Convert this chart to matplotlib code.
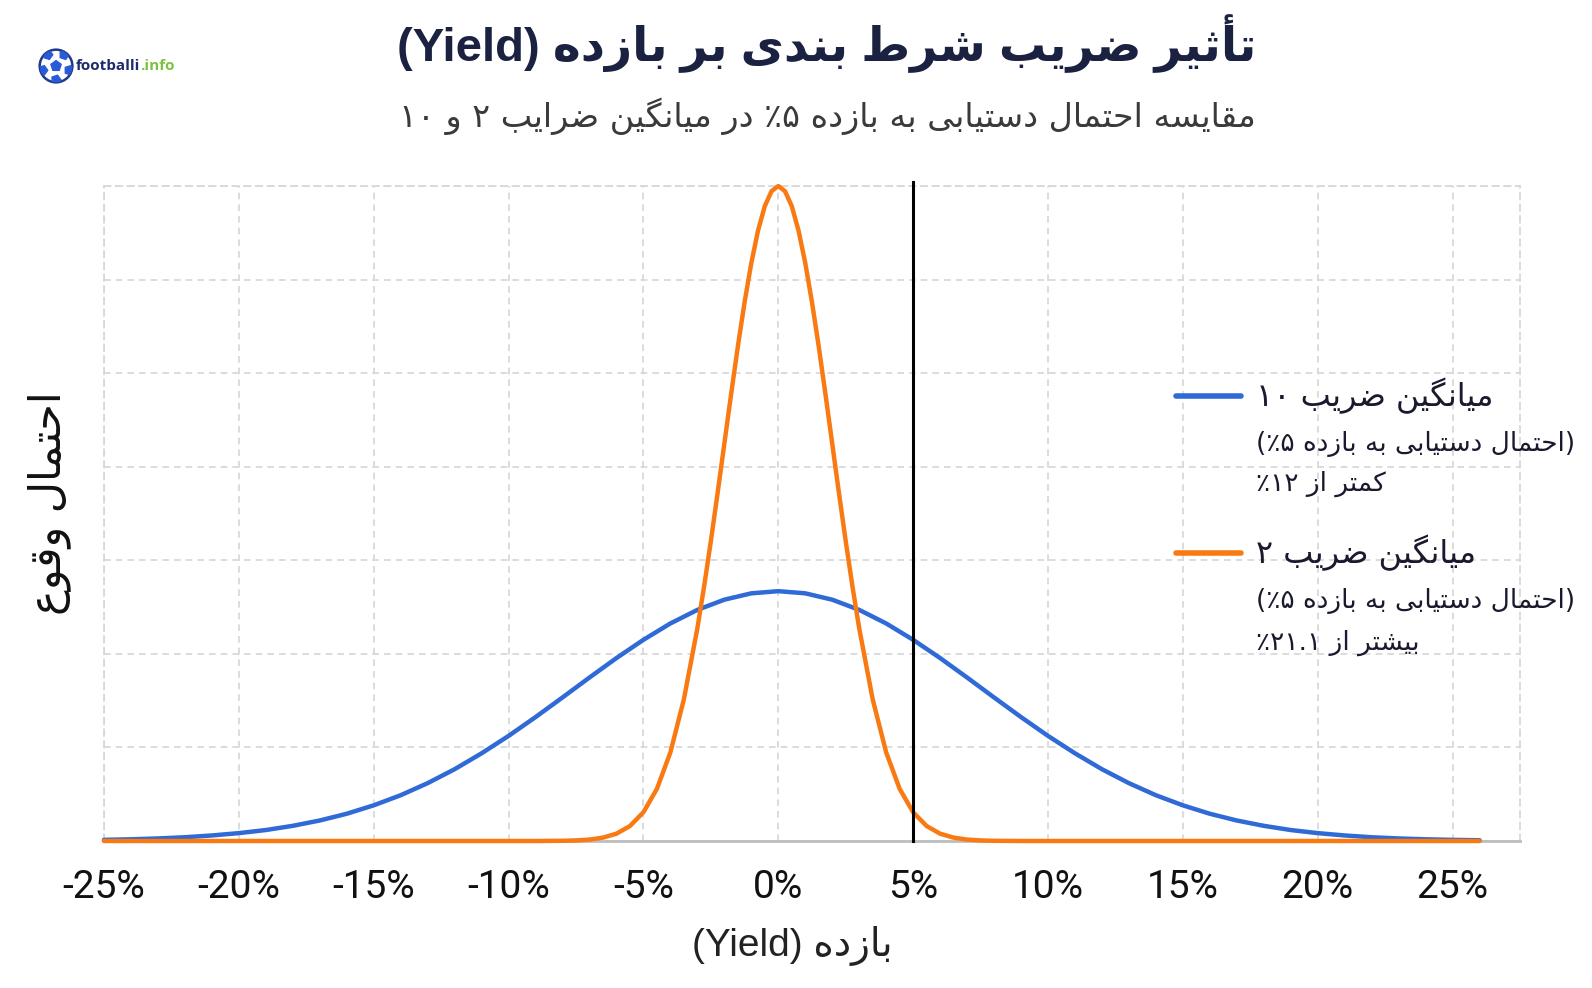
import math
import matplotlib.pyplot as plt
from matplotlib.lines import Line2D
from matplotlib.patches import Circle, RegularPolygon

# --- data (x in %, y in grid units, 7 = top) ---
x_ticks = [-25, -20, -15, -10, -5, 0, 5, 10, 15, 20, 25]
tick_labels = ['-25%', '-20%', '-15%', '-10%', '-5%', '0%', '5%', '10%', '15%', '20%', '25%']

blue_x = [-25, -24, -23, -22, -21, -20, -19, -18, -17, -16, -15, -14, -13, -12, -11, -10,
          -9, -8, -7, -6, -5, -4, -3, -2, -1, 0, 1, 2, 3, 4, 5, 6, 7, 8, 9, 10, 11, 12,
          13, 14, 15, 16, 17, 18, 19, 20, 21, 22, 23, 24, 25, 26]
blue_y = [0.012, 0.018, 0.027, 0.040, 0.059, 0.084, 0.117, 0.162, 0.219, 0.291, 0.381,
          0.489, 0.618, 0.767, 0.937, 1.123, 1.324, 1.534, 1.747, 1.955, 2.150, 2.325,
          2.470, 2.579, 2.647, 2.670, 2.647, 2.579, 2.470, 2.325, 2.150, 1.955, 1.747,
          1.534, 1.324, 1.123, 0.937, 0.767, 0.618, 0.489, 0.381, 0.291, 0.219, 0.162,
          0.117, 0.084, 0.059, 0.040, 0.027, 0.018, 0.012, 0.008]

orange_x = [-25, -20, -15, -10, -9, -8, -7.5, -7, -6.5, -6, -5.5, -5, -4.5, -4, -3.5, -3,
            -2.75, -2.5, -2.25, -2, -1.75, -1.5, -1.25, -1, -0.75, -0.5, -0.25, 0,
            0.25, 0.5, 0.75, 1, 1.25, 1.5, 1.75, 2, 2.25, 2.5, 2.75, 3, 3.5, 4, 4.5,
            5, 5.5, 6, 6.5, 7, 7.5, 8, 9, 10, 15, 20, 25, 26]
orange_y = [0, 0, 0, 0, 0, 0.002, 0.006, 0.015, 0.036, 0.078, 0.160, 0.307, 0.557, 0.947,
            1.514, 2.273, 2.720, 3.205, 3.718, 4.246, 4.773, 5.284, 5.758, 6.177, 6.525,
            6.785, 6.945, 7.0, 6.945, 6.785, 6.525, 6.177, 5.758, 5.284, 4.773, 4.246,
            3.718, 3.205, 2.720, 2.273, 1.514, 0.947, 0.557, 0.307, 0.160, 0.078, 0.036,
            0.015, 0.006, 0.002, 0, 0, 0, 0, 0, 0]

target_yield = 5

title = 'تأثیر ضریب شرط بندی بر بازده (Yield)'
subtitle = 'مقایسه احتمال دستیابی به بازده ۵٪ در میانگین ضرایب ۲ و ۱۰'
xlabel = 'بازده (Yield)'
ylabel = 'احتمال وقوع'
legend_blue = ['میانگین ضریب ۱۰', '(احتمال دستیابی به بازده ۵٪)', 'کمتر از ۱۲٪']
legend_orange = ['میانگین ضریب ۲', '(احتمال دستیابی به بازده ۵٪)', 'بیشتر از ۲۱.۱٪']

BLUE = '#2f6ad6'
ORANGE = '#f97a12'

# --- tiny Persian shaping + right-to-left ordering (matplotlib has none) ---
DUAL = {'ب': 0xFE8F, 'پ': 0xFB56, 'ت': 0xFE95, 'ث': 0xFE99, 'ج': 0xFE9D, 'چ': 0xFB7A,
        'ح': 0xFEA1, 'خ': 0xFEA5, 'س': 0xFEB1, 'ش': 0xFEB5, 'ص': 0xFEB9, 'ض': 0xFEBD,
        'ط': 0xFEC1, 'ظ': 0xFEC5, 'ع': 0xFEC9, 'غ': 0xFECD, 'ف': 0xFED1, 'ق': 0xFED5,
        'ک': 0xFB8E, 'گ': 0xFB92, 'ل': 0xFEDD, 'م': 0xFEE1, 'ن': 0xFEE5, 'ه': 0xFEE9,
        'ی': 0xFBFC, 'ئ': 0xFE89}
RIGHT = {'ا': 0xFE8D, 'أ': 0xFE83, 'آ': 0xFE81, 'د': 0xFEA9, 'ذ': 0xFEAB, 'ر': 0xFEAD,
         'ز': 0xFEAF, 'ژ': 0xFB8A, 'و': 0xFEED, 'ؤ': 0xFE85}
LTR = set('0123456789۰۱۲۳۴۵۶۷۸۹.')
MIRROR = {'(': ')', ')': '('}


def shape(text):
    out = []
    for i, ch in enumerate(text):
        base = DUAL.get(ch, RIGHT.get(ch))
        if base is None:
            out.append(ch)
            continue
        prev = text[i - 1] if i > 0 else ''
        nxt = text[i + 1] if i + 1 < len(text) else ''
        jp = prev in DUAL
        jn = ch in DUAL and (nxt in DUAL or nxt in RIGHT)
        form = 3 if (jp and jn) else 2 if jn else 1 if jp else 0
        out.append(chr(base + form))
    return ''.join(out)


def fa(text):
    runs = []
    for ch in shape(text):
        ltr = ch in LTR or (ch.isascii() and ch.isalpha())
        if runs and runs[-1][0] == ltr:
            runs[-1][1].append(ch)
        else:
            runs.append([ltr, [ch]])
    parts = []
    for ltr, chars in reversed(runs):
        if ltr:
            parts.append(''.join(chars))
        else:
            parts.append(''.join(MIRROR.get(c, c) for c in reversed(chars)))
    return ''.join(parts)


FA = ['DejaVu Sans']
MIX = ['Liberation Sans', 'DejaVu Sans']

fig = plt.figure(figsize=(15.92, 9.88), dpi=100)
ax = fig.add_axes([0.0653, 0.1488, 0.8895, 0.6629])

ax.plot(blue_x, blue_y, color=BLUE, lw=3.2, clip_on=False, zorder=4, solid_capstyle='round')
ax.plot(orange_x, orange_y, color=ORANGE, lw=3.2, clip_on=False, zorder=5, solid_capstyle='round')
ax.axvline(target_yield, ymin=0, ymax=1.006, color='black', lw=2.2, clip_on=False, zorder=6)

ax.set_xlim(-25, 27.5)
ax.set_ylim(0, 7)
ax.set_xticks(x_ticks)
ax.set_xticklabels(tick_labels, fontfamily='Roboto', fontsize=28, color='#111111')
ax.set_yticks(range(0, 8))
ax.set_yticklabels([])
ax.tick_params(length=0, pad=20)
ax.grid(True, color='#d6d6d6', ls=(0, (4, 3)), lw=1.2)
for side in ['top', 'left', 'right']:
    ax.spines[side].set_color('#d6d6d6')
    ax.spines[side].set_linestyle((0, (4, 3)))
    ax.spines[side].set_linewidth(1.2)
ax.spines['bottom'].set_color('#bdbdbd')
ax.spines['bottom'].set_linewidth(2)

# titles and axis labels
fig.text(0.519, 0.956, fa(title), ha='center', va='center', fontsize=34,
         fontweight='bold', family=MIX, color='#1b2140')
fig.text(0.52, 0.882, fa(subtitle), ha='center', va='center', fontsize=24,
         family=FA, color='#3a3a3a')
fig.text(0.4975, 0.043, fa(xlabel), ha='center', va='center', fontsize=28,
         family=MIX, color='#222222')
fig.text(0.031, 0.491, fa(ylabel), ha='center', va='center', rotation=90,
         fontsize=31, family=FA, color='#111111')

# legend drawn by hand, text block left aligned next to the handles
for lines, color, ys in [(legend_blue, BLUE, [396, 444, 484]),
                         (legend_orange, ORANGE, [553, 601, 643])]:
    fy = [1 - y / 988 for y in ys]
    fig.add_artist(Line2D([1176 / 1592, 1241 / 1592], [fy[0], fy[0]], color=color,
                          lw=4, solid_capstyle='round'))
    fig.text(0.789, fy[0], fa(lines[0]), ha='left', va='center', fontsize=23,
             family=FA, color='#1a1a2e')
    for t, y in zip(lines[1:], fy[1:]):
        fig.text(0.789, y, fa(t), ha='left', va='center', fontsize=19,
                 family=FA, color='#1a1a2e')

# logo
lax = fig.add_axes([0.0239, 0.915, 0.0226, 0.0364])
lax.set_aspect('equal')
lax.set_xlim(-1.1, 1.1)
lax.set_ylim(-1.1, 1.1)
lax.axis('off')
ball = Circle((0, 0), 1, fc='white', ec='#1e3a8a', lw=1.8)
lax.add_patch(ball)
lax.add_patch(RegularPolygon((0, 0), 5, radius=0.33, color='#2a5bd7'))
for k in range(5):
    a = math.pi / 2 + k * 2 * math.pi / 5 + math.pi / 5
    p = RegularPolygon((0.85 * math.cos(a), 0.85 * math.sin(a)), 5, radius=0.3,
                       orientation=a, color='#2a5bd7')
    p.set_clip_path(ball)
    lax.add_patch(p)
t1 = fig.text(0.0477, 0.933, 'footballi', ha='left', va='center', fontsize=11,
              fontweight='bold', family='Open Sans', color='#1d2a6b')
ax.annotate('.info', xy=(1, 0), xycoords=t1, ha='left', va='bottom', fontsize=11,
            fontweight='bold', family='Open Sans', color='#7cc142', annotation_clip=False)

fig.savefig('out.png', dpi=100, facecolor='white')
